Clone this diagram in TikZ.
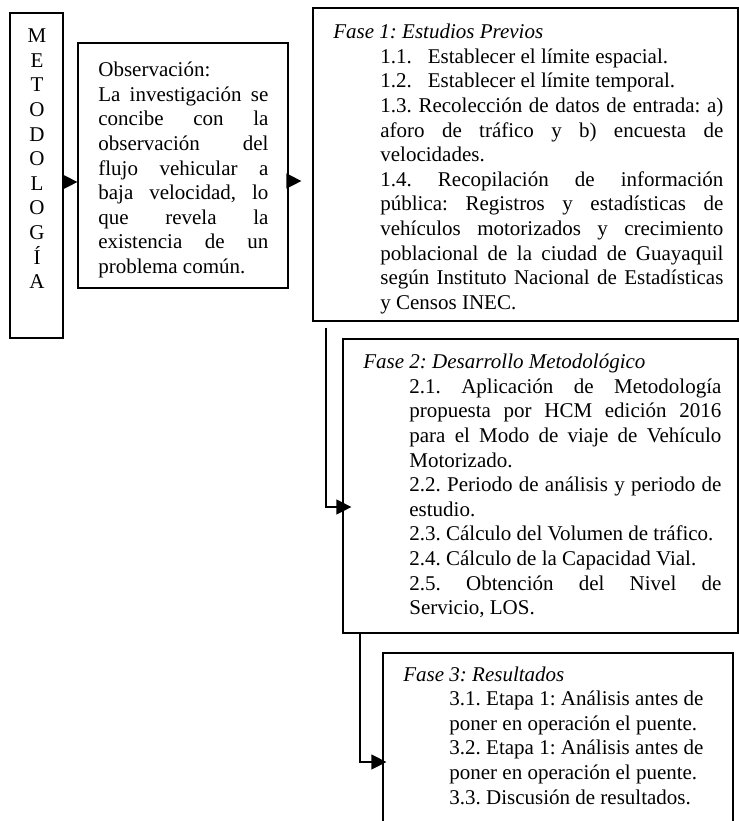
\documentclass[tikz,border=0pt]{standalone}
\usepackage{fontspec}
\setmainfont{Liberation Serif}
\usetikzlibrary{arrows.meta, positioning, calc, fit}
\newcommand{\letra}{\fontsize{10.5pt}{12.3pt}\selectfont}

\tikzset{
  caja/.style={draw, line width=0.6pt, inner sep=0pt},
  texto/.style={font=\letra, inner sep=0pt, anchor=north west, align=justify,
    execute at begin node={\tolerance=10000\hyphenpenalty=10000\parindent=0pt\frenchspacing}},
  flecha/.style={-{Triangle[length=7.5pt, width=7.5pt]}, line width=0.6pt},
}

\begin{document}
\begin{tikzpicture}[x=0.5pt, y=-0.5pt]
  \useasboundingbox (0,0) rectangle (739,821);

  % --- cajas ---
  \node[caja, fit={(10,13) (63,338)}] (metod) {};
  \node[caja, fit={(78,43) (288,288)}] (obs) {};
  \node[caja, fit={(313,8) (738,321)}] (fase1) {};
  \node[caja, fit={(343,339) (738,633)}] (fase2) {};
  \node[caja, fit={(383,653) (733,826)}] (fase3) {};

  % --- textos ---
  \node[texto, align=center, anchor=north, text width=20pt] (metodtxt) at (37,25)
    {\strut M\\E\\T\\O\\D\\O\\L\\O\\G\\Í\\A};

  \node[texto, text width=85pt] (obstxt) at (98,59)
    {\strut Observación:\par
     La investigación se\linebreak concibe con la\linebreak observación del\linebreak
     flujo vehicular a\linebreak baja velocidad, lo\linebreak que revela la\linebreak
     existencia de un\linebreak problema común.\par};

  \node[texto, text width=195pt] (fase1txt) at (333,21)
    {\strut\textit{Fase 1: Estudios Previos}\par\leftskip=23.5pt
     1.1.\hspace{8pt}Establecer el límite espacial.\par
     1.2.\hspace{8pt}Establecer el límite temporal.\par
     1.3. Recolección de datos de entrada: a)\linebreak aforo de tráfico y b) encuesta de\linebreak
     velocidades.\par
     1.4. Recopilación de información\linebreak pública: Registros y estadísticas de\linebreak
     vehículos motorizados y crecimiento\linebreak poblacional de la ciudad de Guayaquil\linebreak
     según Instituto Nacional de Estadísticas\linebreak y Censos INEC.\par};

  \node[texto, text width=179pt] (fase2txt) at (363,351)
    {\strut\textit{Fase 2: Desarrollo Metodológico}\par\leftskip=23pt
     2.1. Aplicación de Metodología\linebreak propuesta por HCM edición 2016\linebreak
     para el Modo de viaje de Vehículo\linebreak Motorizado.\par
     2.2. Periodo de análisis y periodo de\linebreak estudio.\par
     2.3. Cálculo del Volumen de tráfico.\par
     2.4. Cálculo de la Capacidad Vial.\par
     2.5. Obtención del Nivel de\linebreak Servicio, LOS.\par};

  \node[texto, text width=150pt] (fase3txt) at (403,663.5)
    {\strut\textit{Fase 3: Resultados}\par\leftskip=23pt
     3.1. Etapa 1: Análisis antes de\linebreak poner en operación el puente.\par
     3.2. Etapa 1: Análisis antes de\linebreak poner en operación el puente.\par
     3.3. Discusión de resultados.\par};

  % --- conectores ---
  \coordinate (f1) at (0,182);
  \coordinate (f2) at (0,181);
  \coordinate (c3) at (326,507);
  \coordinate (c4) at (360,762);
  \draw[flecha, shorten <=-3pt] (metod.east |- f1) -- (obs.west |- f1);
  \draw[flecha, shorten <=-4.5pt, shorten >=5.5pt] (obs.east |- f2) -- (fase1.west |- f2);
  \draw[flecha, shorten <=3pt, shorten >=-4.5pt] (fase1.south -| c3) |- (fase2.west |- c3);
  \draw[flecha, shorten >=-2pt] (fase2.south -| c4) |- (fase3.west |- c4);

\end{tikzpicture}
\end{document}
